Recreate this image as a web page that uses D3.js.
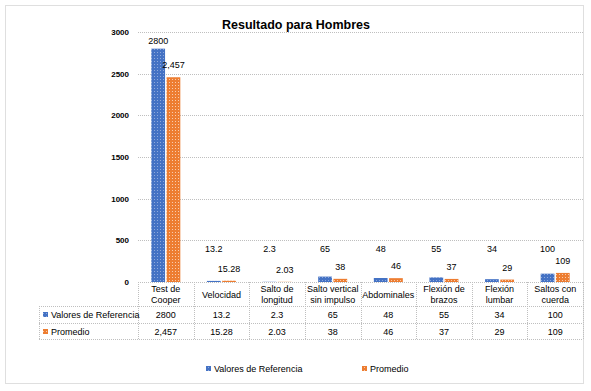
<!DOCTYPE html>
<html>
<head>
<meta charset="utf-8">
<script src="https://cdn.jsdelivr.net/npm/d3@7"></script>
<style>
  body { margin: 0; background: #fff; }
  svg text { font-family: "Liberation Sans", Arial, sans-serif; fill: #000; }
</style>
</head>
<body>
<svg id="chart" width="591" height="391"></svg>
<script>
// datos del grafico
const categorias = [
  ["Test de", "Cooper"], ["Velocidad"], ["Salto de", "longitud"], ["Salto vertical", "sin impulso"],
  ["Abdominales"], ["Flexión de", "brazos"], ["Flexión", "lumbar"], ["Saltos con", "cuerda"]
];
const series = ["Valores de Referencia", "Promedio"];
const valoresReferencia = [2800, 13.2, 2.3, 65, 48, 55, 34, 100];
const promedio = [2457, 15.28, 2.03, 38, 46, 37, 29, 109];
const etiquetasRef = ["2800", "13.2", "2.3", "65", "48", "55", "34", "100"];
const etiquetasProm = ["2,457", "15.28", "2.03", "38", "46", "37", "29", "109"];
const ticksY = [0, 500, 1000, 1500, 2000, 2500, 3000];

const svg = d3.select("#chart");
const colores = ["#4472C4", "#ED7D31"];
const claros = ["#8FAADC", "#F8CBAD"];
const gris = "#BFBFBF";
const fs = 9;

// patrones punteados de las barras
const defs = svg.append("defs");
colores.forEach((c, i) => {
  const p = defs.append("pattern").attr("id", "pat" + i)
    .attr("width", 3).attr("height", 3).attr("patternUnits", "userSpaceOnUse");
  p.append("rect").attr("width", 3).attr("height", 3).attr("fill", c);
  p.append("rect").attr("x", 1).attr("y", 1).attr("width", 1).attr("height", 1).attr("fill", claros[i]);
});

// marco
svg.append("rect").attr("x", 5.5).attr("y", 5.5).attr("width", 578).attr("height", 378)
  .attr("fill", "none").attr("stroke", gris).attr("stroke-dasharray", "1,1");

svg.append("text").attr("x", 296).attr("y", 29).attr("text-anchor", "middle")
  .attr("font-size", 12.5).attr("font-weight", "bold").text("Resultado para Hombres");

const izq = 138, der = 583, arriba = 32, base = 282;
const y = d3.scaleLinear().domain([0, 3000]).range([base, arriba]);
const x = d3.scaleBand().domain(d3.range(categorias.length)).range([izq, der]);
const xs = d3.scaleBand().domain([0, 1]).range([0, 29]).paddingInner(0.1);

// lineas de cuadricula
svg.append("g").selectAll("line").data(ticksY.filter(d => d > 0)).join("line")
  .attr("x1", izq).attr("x2", der).attr("y1", d => Math.round(y(d)) + 0.5).attr("y2", d => Math.round(y(d)) + 0.5)
  .attr("stroke", gris).attr("stroke-dasharray", "1,1");

const ejeY = svg.append("g").attr("transform", `translate(${izq - 9},0)`)
  .call(d3.axisLeft(y).tickValues(ticksY).tickFormat(d3.format("d")).tickSize(0).tickPadding(0));
ejeY.select(".domain").remove();
ejeY.selectAll("text").attr("font-size", 8).attr("font-weight", "bold")
  .style("font-family", "'Liberation Sans', sans-serif");

const datos = [valoresReferencia, promedio];
const etiquetas = [etiquetasRef, etiquetasProm];
const off = (x.bandwidth() - 29) / 2;

datos.forEach((vals, s) => {
  const g = svg.append("g");
  g.selectAll("rect").data(vals).join("rect")
    .attr("x", (d, i) => x(i) + off + xs(s))
    .attr("y", d => y(d))
    .attr("width", xs.bandwidth())
    .attr("height", d => base - y(d))
    .attr("fill", `url(#pat${s})`);
  g.selectAll("text").data(vals).join("text")
    .attr("x", (d, i) => x(i) + off + xs(s) + xs.bandwidth() / 2)
    .attr("y", d => s === 0 ? Math.min(y(d) - 5, 252) : Math.min(y(d) - 9, 273))
    .attr("text-anchor", "middle").attr("font-size", fs)
    .text((d, i) => etiquetas[s][i]);
});

// tabla de datos
const filas = [306, 323, 339];
const tabla = svg.append("g").attr("stroke", gris).attr("stroke-dasharray", "1,1").attr("fill", "none");
tabla.append("line").attr("x1", izq).attr("x2", der).attr("y1", base + 0.5).attr("y2", base + 0.5)
  .attr("stroke-dasharray", null);
filas.forEach(f => tabla.append("line").attr("x1", 39).attr("x2", der).attr("y1", f + 0.5).attr("y2", f + 0.5));
d3.range(categorias.length + 1).forEach(i => {
  const xv = Math.round(i < categorias.length ? x(i) : der) + 0.5;
  tabla.append("line").attr("x1", xv).attr("x2", xv).attr("y1", base).attr("y2", filas[2]);
});
tabla.append("line").attr("x1", 39.5).attr("x2", 39.5).attr("y1", filas[0]).attr("y2", filas[2]);

const cab = svg.append("g");
categorias.forEach((c, i) => {
  const cx = x(i) + x.bandwidth() / 2;
  const t = cab.append("text").attr("x", cx).attr("text-anchor", "middle").attr("font-size", fs)
    .attr("textLength", null);
  const y0 = c.length === 1 ? 298 : 292;
  c.forEach((l, k) => t.append("tspan").attr("x", cx).attr("y", y0 + k * 11).text(l));
  etiquetas.forEach((e, s) => {
    cab.append("text").attr("x", cx).attr("y", filas[s] + 12).attr("text-anchor", "middle")
      .attr("font-size", fs).text(e[i]);
  });
});
series.forEach((n, s) => {
  svg.append("rect").attr("x", 43).attr("y", filas[s] + 6).attr("width", 5).attr("height", 5).attr("fill", `url(#pat${s})`);
  svg.append("text").attr("x", 51).attr("y", filas[s] + 12).attr("font-size", fs).text(n);
});

// leyenda
const ley = svg.append("g");
[206, 362].forEach((lx, s) => {
  ley.append("rect").attr("x", lx).attr("y", 366).attr("width", 5).attr("height", 5).attr("fill", `url(#pat${s})`);
  ley.append("text").attr("x", lx + 8).attr("y", 372).attr("font-size", fs).text(series[s]);
});
</script>
</body>
</html>
